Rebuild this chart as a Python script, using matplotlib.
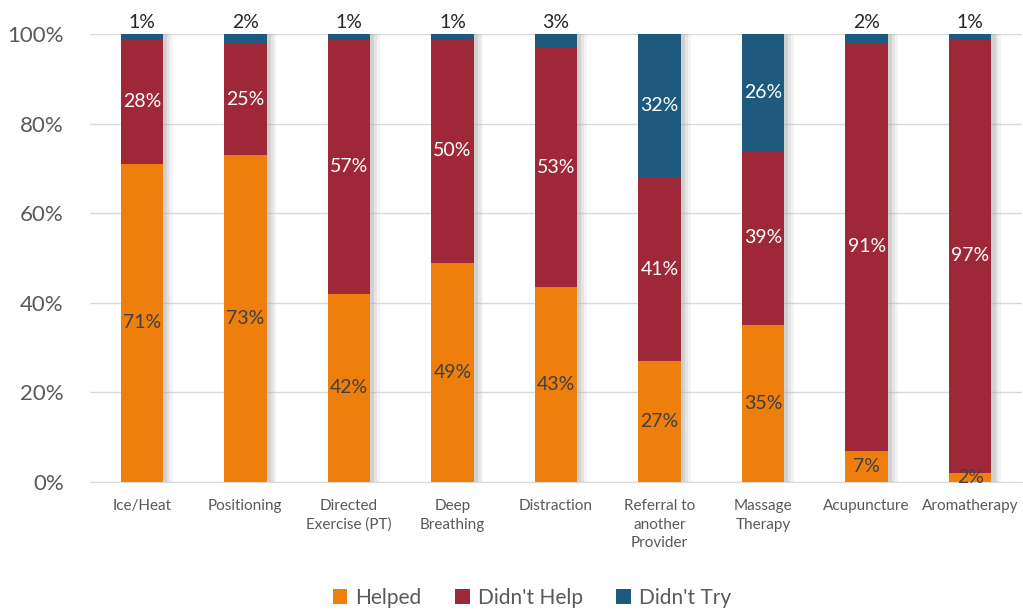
import numpy as np
from matplotlib import pyplot as plt
from matplotlib.patches import Patch
import matplotlib.patheffects as pe

plt.rcParams['font.family'] = ['Lato', 'DejaVu Sans']

categories = ["Ice/Heat", "Positioning", "Directed\nExercise (PT)", "Deep\nBreathing",
              "Distraction", "Referral to\nanother\nProvider", "Massage\nTherapy",
              "Acupuncture", "Aromatherapy"]
helped = [71, 73, 42, 49, 43, 27, 35, 7, 2]
didnt_help = [28, 25, 57, 50, 53, 41, 39, 91, 97]
didnt_try = [1, 2, 1, 1, 3, 32, 26, 2, 1]

series = [("Helped", helped, "#EE7F0C", "#404040"),
          ("Didn't Help", didnt_help, "#9E2837", "white"),
          ("Didn't Try", didnt_try, "#1E5A7E", "white")]

fig = plt.figure(figsize=(10.23, 6.10), dpi=100)
ax = fig.add_axes([0.088, 0.210, 0.911, 0.734])

x = np.arange(len(categories))
totals = np.array(helped) + np.array(didnt_help) + np.array(didnt_try)
bottom = np.zeros(len(categories))
# soft drop shadow on the right of each bar
shadow = [pe.SimplePatchShadow(offset=(7, 0), shadow_rgbFace="#BBBBBB", alpha=0.15),
          pe.SimplePatchShadow(offset=(5, 0), shadow_rgbFace="#AAAAAA", alpha=0.2),
          pe.SimplePatchShadow(offset=(3, 0), shadow_rgbFace="#999999", alpha=0.25),
          pe.Normal()]

handles = []
for name, vals, color, tcolor in series:
    frac = np.array(vals) / totals
    bars = ax.bar(x, frac, 0.41, bottom=bottom, color=color, zorder=3)
    for b in bars:
        b.set_path_effects(shadow)
    handles.append(Patch(facecolor=color, label=name))
    for i, v in enumerate(vals):
        if name == "Didn't Try" and v < 5:
            # tiny segments: label sits above the bar
            ax.text(x[i], 1.006, f"{v}%", ha="center", va="bottom", fontsize=14,
                    color="#262626", zorder=5)
        else:
            ax.text(x[i], bottom[i] + frac[i] / 2, f"{v}%", ha="center", va="center",
                    fontsize=14, color=tcolor, zorder=5)
    bottom += frac

ax.set_xlim(-0.5, len(categories) - 0.5)
ax.set_ylim(0, 1)
ax.set_yticks(np.arange(0, 1.01, 0.2))
ax.set_yticklabels([f"{int(round(t * 100))}%" for t in np.arange(0, 1.01, 0.2)])
ax.set_xticks(x)
ax.set_xticklabels(categories, linespacing=1.45)
ax.tick_params(axis="y", length=0, labelsize=16, labelcolor="#595959", pad=19)
ax.tick_params(axis="x", length=0, labelsize=11, labelcolor="#595959", pad=12)
ax.grid(axis="y", color="#D9D9D9", linewidth=1, zorder=0)
for s in ["top", "right", "left"]:
    ax.spines[s].set_visible(False)
ax.spines["bottom"].set_color("#D9D9D9")
ax.spines["bottom"].set_zorder(4)

leg = fig.legend(handles=handles, loc="center", bbox_to_anchor=(0.52, 0.02), ncol=3,
                 frameon=False, fontsize=15, handlelength=0.7, handleheight=0.7,
                 handletextpad=0.4, columnspacing=1.6)
for t in leg.get_texts():
    t.set_color("#595959")

fig.savefig("out.png", dpi=100)
